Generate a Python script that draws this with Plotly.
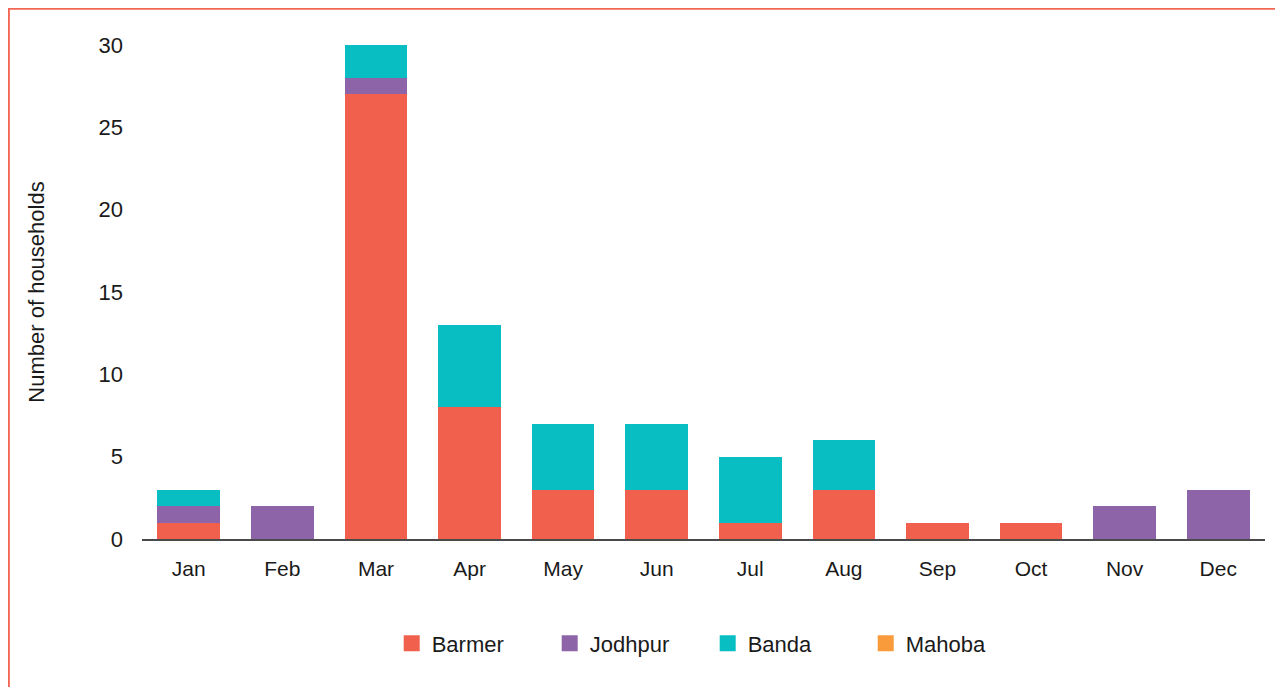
import plotly.graph_objects as go

months = ["Jan", "Feb", "Mar", "Apr", "May", "Jun", "Jul", "Aug", "Sep", "Oct", "Nov", "Dec"]
barmer = [1, 0, 27, 8, 3, 3, 1, 3, 1, 1, 0, 0]
jodhpur = [1, 2, 1, 0, 0, 0, 0, 0, 0, 0, 2, 3]
banda = [1, 0, 2, 5, 4, 4, 4, 3, 0, 0, 0, 0]
mahoba = [0, 0, 0, 0, 0, 0, 0, 0, 0, 0, 0, 0]
y_ticks = [0, 5, 10, 15, 20, 25, 30]

series = [
    ("Barmer", barmer, "#F1604C"),
    ("Jodhpur", jodhpur, "#8E64A9"),
    ("Banda", banda, "#08BEC3"),
    ("Mahoba", mahoba, "#F99B3B"),
]

FONT = "Liberation Sans, Arial, Helvetica, sans-serif"
# page has an 8px body margin: figure coordinates = page coordinates - 8
W, H = 1275, 679
L, R, T, B = 134, 18, 37, 148
pw, ph = W - L - R, H - T - B

fig = go.Figure()
for name, vals, col in series:
    fig.add_trace(go.Bar(x=months, y=vals, name=name, showlegend=False,
                         marker=dict(color=col, line=dict(width=0))))
# legend proxies (larger square symbols)
for name, vals, col in series:
    fig.add_trace(go.Scatter(x=[None], y=[None], mode="markers", name=name,
                             marker=dict(symbol="square", size=17, color=col)))

def px_x(p):
    return (p - L) / pw

def px_y(p):
    return 1 - (p - T) / ph

fig.update_layout(
    width=W, height=H,
    barmode="stack", bargap=0.33,
    plot_bgcolor="white", paper_bgcolor="white",
    margin=dict(l=L, r=R, t=T, b=B, autoexpand=False),
    font=dict(family=FONT, size=21, color="#1a1a1a"),
    showlegend=True,
    legend=dict(orientation="h", xref="container", yref="container",
                x=383.7 / W, xanchor="left", y=1 - 635.5 / H, yanchor="middle",
                font=dict(size=22), entrywidth=113, traceorder="normal",
                itemsizing="trace", bgcolor="rgba(0,0,0,0)"),
    xaxis=dict(showgrid=False, showline=True, linecolor="#4a4a4a", linewidth=2,
               ticks="", tickfont=dict(size=21), ticklabelstandoff=10),
    yaxis=dict(range=[0, 30], tickvals=y_ticks, showgrid=False, zeroline=False,
               showline=False, ticks="", tickfont=dict(size=22), ticklabelstandoff=18,
               title=dict(text="Number of households", font=dict(size=22), standoff=47)),
    shapes=[dict(type="rect", xref="paper", yref="paper",
                 x0=px_x(0.6), x1=px_x(W + 20), y0=px_y(H + 20), y1=px_y(0.6),
                 line=dict(color="#F26754", width=2.5), fillcolor="rgba(0,0,0,0)",
                 layer="above")],
)

fig.write_html("out.html")
